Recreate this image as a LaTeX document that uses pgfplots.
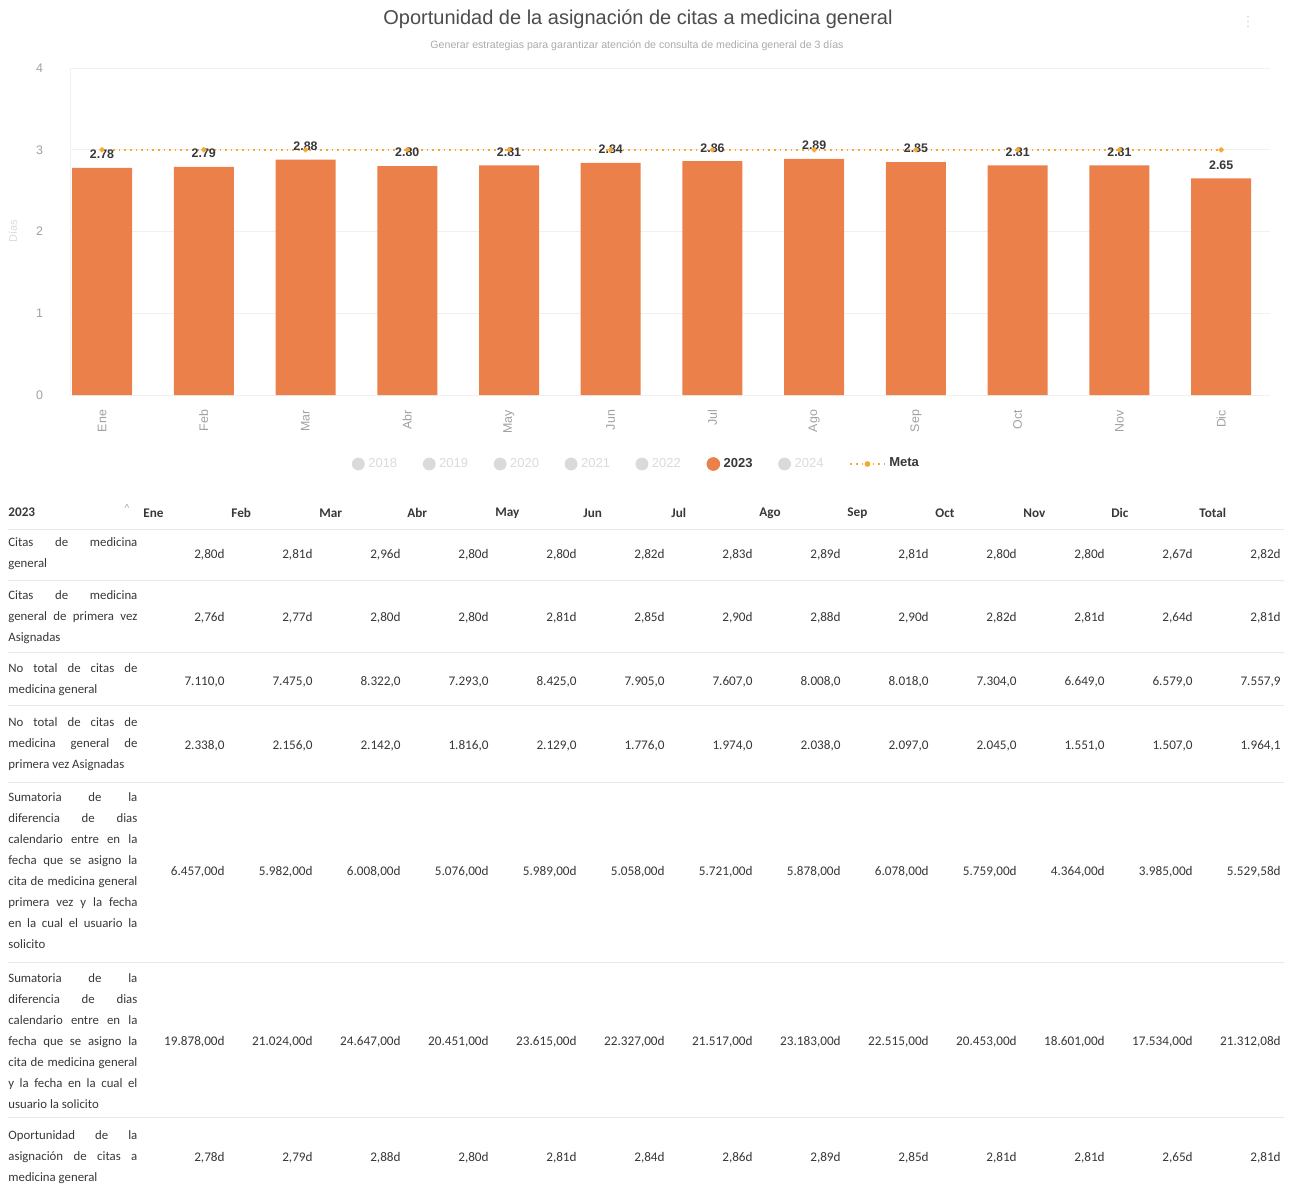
\documentclass[border=0pt]{standalone}
\usepackage{pgfplots}
\pgfplotsset{compat=1.18}
\usepackage{fontspec}
\setmainfont{Liberation Sans}
\newfontfamily\tabfont{Carlito}
\newfontfamily\dejavu{DejaVu Sans}
\definecolor{barc}{RGB}{235,128,75}
\definecolor{metac}{RGB}{245,168,50}
\definecolor{tickc}{RGB}{160,160,160}
\definecolor{txt}{RGB}{55,55,60}
\definecolor{faded}{RGB}{218,218,218}
\definecolor{sub}{RGB}{170,170,170}
\newcommand\js[1]{\makebox[64.5pt][s]{#1}\\}
\newcommand\jn[1]{\makebox[64.5pt][l]{#1}}
\newcommand\vrow[2]{\foreach \v [count=\i from 0] in {#2}{\node[anchor=east,inner sep=0pt] at ({225+88*\i},#1) {\v};}}
\begin{document}
\begin{tikzpicture}
\useasboundingbox (0,0) rectangle (647pt,-595pt);
\begin{axis}[
  at={(35pt,-197.5pt)}, anchor=south west,
  scale only axis, width=600pt, height=163.5pt,
  xmin=-0.315, xmax=11.48, ymin=0, ymax=4,
  ytick={0,1,2,3,4}, xtick={0,...,11},
  xticklabels={Ene,Feb,Mar,Abr,May,Jun,Jul,Ago,Sep,Oct,Nov,Dic},
  /pgf/number format/assume math mode=true,
  tick label style={font=\fontsize{6.2}{7}\selectfont, color=tickc},
  xticklabel style={rotate=90, anchor=east, xshift=-4pt},
  yticklabel style={xshift=-10pt},
  major tick length=0pt,
  axis lines*=left,
  x axis line style={draw=none},
  y axis line style={draw=gray!12},
  ymajorgrids, grid style={draw=gray!12},
  ylabel={Días},
  ylabel style={at={(axis description cs:-0.0475,0.5)}, anchor=center, font=\fontsize{5.5}{6}\selectfont, color=faded},
  legend style={at={(0.473,-0.211)}, anchor=center, draw=none, fill=none,
    font=\fontsize{6.5}{7}\selectfont,
    /tikz/every even column/.append style={column sep=11pt}},
  legend columns=-1,
]
\addlegendimage{only marks, mark=*, mark size=3pt, faded}
\addlegendentry[text=faded]{2018}
\addlegendimage{only marks, mark=*, mark size=3pt, faded}
\addlegendentry[text=faded]{2019}
\addlegendimage{only marks, mark=*, mark size=3pt, faded}
\addlegendentry[text=faded]{2020}
\addlegendimage{only marks, mark=*, mark size=3pt, faded}
\addlegendentry[text=faded]{2021}
\addlegendimage{only marks, mark=*, mark size=3pt, faded}
\addlegendentry[text=faded]{2022}
\addlegendimage{only marks, mark=*, mark size=3.2pt, barc}
\addlegendentry[text=txt, font=\fontsize{6.5}{7}\selectfont\bfseries]{2023}
\addlegendimage{only marks, mark=*, mark size=3pt, faded}
\addlegendentry[text=faded]{2024}
\addlegendimage{metac, dotted, line width=0.8pt, mark=*, mark size=1pt, mark options={solid}}
\addlegendentry[text=txt, font=\fontsize{6.5}{7}\selectfont\bfseries]{Meta}
\addplot[ybar, bar width=30pt, fill=barc, draw=none, forget plot,
  nodes near coords,
  every node near coord/.append style={font=\fontsize{6.2}{7}\selectfont\bfseries, color=txt, yshift=1pt},
  /pgf/number format/.cd, fixed, fixed zerofill, precision=2]
coordinates {(0,2.78) (1,2.79) (2,2.88) (3,2.80) (4,2.81) (5,2.84) (6,2.86) (7,2.89) (8,2.85) (9,2.81) (10,2.81) (11,2.65)};
\addplot[metac, dotted, line width=0.8pt, mark=*, mark size=0.9pt, mark options={solid}, forget plot]
coordinates {(0,3) (1,3) (2,3) (3,3) (4,3) (5,3) (6,3) (7,3) (8,3) (9,3) (10,3) (11,3)};
\end{axis}
\begin{scope}[x=0.5pt,y=-0.5pt]
\node[font=\fontsize{10}{12}\selectfont, color=txt!90] at (638,19) {Oportunidad de la asignación de citas a medicina general};
\node[font=\fontsize{5.3}{6}\selectfont, color=sub] at (637,46) {Generar estrategias para garantizar atención de consulta de medicina general de 3 días};
\node[font=\dejavu\fontsize{7}{8}\selectfont, color=faded] at (1248,22) {⋮};
% table
\foreach \yy in {529,580,652,705,782,962,1117} {\draw[gray!18, line width=0.4pt] (8,\yy) -- (1284,\yy);}
\begin{scope}[font=\tabfont\fontsize{6.6}{10.5}\selectfont, color=txt]
\node[anchor=west, inner sep=0pt, font=\tabfont\fontsize{6.6}{8}\selectfont\bfseries] at (8,512) {2023};
\node[inner sep=0pt, color=tickc, font=\fontsize{5}{6}\selectfont] at (127,508) {\textasciicircum};
\foreach \h [count=\i from 0] in {Ene,Feb,Mar,Abr,May,Jun,Jul,Ago,Sep,Oct,Nov,Dic,Total}
  {\node[anchor=west, inner sep=0pt, font=\tabfont\fontsize{6.6}{8}\selectfont\bfseries] at ({143+88*\i},513) {\h};}
\begin{scope}[every node/.style={anchor=west, inner sep=0pt, align=left, font=\tabfont\fontsize{6.4}{10.5}\selectfont}]
\node at (8,554) {\js{Citas de medicina}\jn{general}};
\node at (8,617) {\js{Citas de medicina}\js{general de primera vez}\jn{Asignadas}};
\node at (8,680) {\js{No total de citas de}\jn{medicina general}};
\node at (8,744) {\js{No total de citas de}\js{medicina general de}\jn{primera vez Asignadas}};
\node at (8,871) {\js{Sumatoria de la}\js{diferencia de dias}\js{calendario entre en la}\js{fecha que se asigno la}\js{cita de medicina general}\js{primera vez y la fecha}\js{en la cual el usuario la}\jn{solicito}};
\node at (8,1041) {\js{Sumatoria de la}\js{diferencia de dias}\js{calendario entre en la}\js{fecha que se asigno la}\js{cita de medicina general}\js{y la fecha en la cual el}\jn{usuario la solicito}};
\node at (8,1157) {\js{Oportunidad de la}\js{asignación de citas a}\jn{medicina general}};
\end{scope}
\vrow{555}{{2,80d},{2,81d},{2,96d},{2,80d},{2,80d},{2,82d},{2,83d},{2,89d},{2,81d},{2,80d},{2,80d},{2,67d},{2,82d}}
\vrow{618}{{2,76d},{2,77d},{2,80d},{2,80d},{2,81d},{2,85d},{2,90d},{2,88d},{2,90d},{2,82d},{2,81d},{2,64d},{2,81d}}
\vrow{682}{{7.110,0},{7.475,0},{8.322,0},{7.293,0},{8.425,0},{7.905,0},{7.607,0},{8.008,0},{8.018,0},{7.304,0},{6.649,0},{6.579,0},{7.557,9}}
\vrow{746}{{2.338,0},{2.156,0},{2.142,0},{1.816,0},{2.129,0},{1.776,0},{1.974,0},{2.038,0},{2.097,0},{2.045,0},{1.551,0},{1.507,0},{1.964,1}}
\vrow{872}{{6.457,00d},{5.982,00d},{6.008,00d},{5.076,00d},{5.989,00d},{5.058,00d},{5.721,00d},{5.878,00d},{6.078,00d},{5.759,00d},{4.364,00d},{3.985,00d},{5.529,58d}}
\vrow{1042}{{19.878,00d},{21.024,00d},{24.647,00d},{20.451,00d},{23.615,00d},{22.327,00d},{21.517,00d},{23.183,00d},{22.515,00d},{20.453,00d},{18.601,00d},{17.534,00d},{21.312,08d}}
\vrow{1158}{{2,78d},{2,79d},{2,88d},{2,80d},{2,81d},{2,84d},{2,86d},{2,89d},{2,85d},{2,81d},{2,81d},{2,65d},{2,81d}}
\end{scope}
\end{scope}
\end{tikzpicture}
\end{document}
